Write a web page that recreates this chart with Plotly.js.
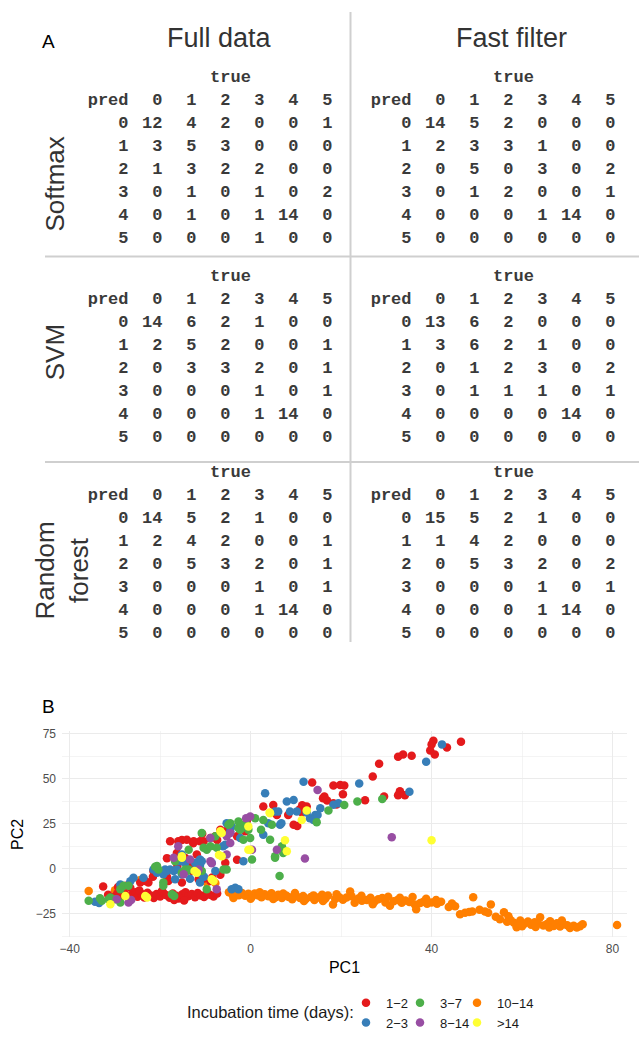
<!DOCTYPE html>
<html><head><meta charset="utf-8">
<script src="https://cdn.plot.ly/plotly-3.0.1.min.js"></script>
<style>html,body{margin:0;padding:0;background:#fff}#chart{width:639px;height:1038px}</style>
</head><body><div id="chart"></div>
<script>
// ---------------- DATA ----------------
const classLabels = ['0','1','2','3','4','5'];
const modelNames = ['Softmax', 'SVM', 'Random<br>forest'];
const dataNames = ['Full data', 'Fast filter'];
// confusion matrices: rows = pred, columns = true
const softmaxFull = [[12,4,2,0,0,1],[3,5,3,0,0,0],[1,3,2,2,0,0],[0,1,0,1,0,2],[0,1,0,1,14,0],[0,0,0,1,0,0]];
const softmaxFast = [[14,5,2,0,0,0],[2,3,3,1,0,0],[0,5,0,3,0,2],[0,1,2,0,0,1],[0,0,0,1,14,0],[0,0,0,0,0,0]];
const svmFull = [[14,6,2,1,0,0],[2,5,2,0,0,1],[0,3,3,2,0,1],[0,0,0,1,0,1],[0,0,0,1,14,0],[0,0,0,0,0,0]];
const svmFast = [[13,6,2,0,0,0],[3,6,2,1,0,0],[0,1,2,3,0,2],[0,1,1,1,0,1],[0,0,0,0,14,0],[0,0,0,0,0,0]];
const rfFull = [[14,5,2,1,0,0],[2,4,2,0,0,1],[0,5,3,2,0,1],[0,0,0,1,0,1],[0,0,0,1,14,0],[0,0,0,0,0,0]];
const rfFast = [[15,5,2,1,0,0],[1,4,2,0,0,0],[0,5,3,2,0,2],[0,0,0,1,0,1],[0,0,0,1,14,0],[0,0,0,0,0,0]];

const groupNames = ['1\u22122','2\u22123','3\u22127','8\u221214','10\u221214','>14'];
const groupColors = ['#E41A1C','#377EB8','#4DAF4A','#984EA3','#FF7F00','#FFFF33'];

const inc12X = [-31.5,-30.2,-29.5,-28.4,-27.8,-27.0,-26.2,-25.5,-25.0,-24.1,-23.5,-22.8,-22.1,-21.4,-20.8,-20.0,-19.3,-18.6,-17.9,-17.2,-16.5,-15.9,-15.1,-14.4,-13.8,-13.0,-12.3,-11.7,-11.0,-10.3,-9.6,-9.0,-8.2,-7.4,-16.9,-14.7,-24.6,-19.6,
 -32.6,-29.3,-27.5,-26.6,-24.4,-23.3,-22.6,-21.6,-18.5,-18.2,-15.2,-11.5,-10.4,-8.9,-8.5,-6.7,-21.5,-13.0,-18.5,-16.2,-12.9,-16.3,-14.5,-11.9,-5.6,-3.0,
 -17.8,-16.0,-15.2,-14.1,-12.6,-12.7,-11.2,-10.4,-10.7,-8.9,-7.8,-7.4,-6.7,-5.0,-3.0,-1.2,-0.8,2.8,5.0,5.8,8.3,9.5,10.3,11.4,12.4,13.6,16.0,11.4,
 40.4,46.5,43.4,39.7,40.7,40.0,32.6,33.7,35.6,28.4,27.0,18.3,19.8,20.7,20.4,16.3,16.9,18.3,19.0,25.3,29.5,33.0,32.6,34.1,10.9];
const inc12Y = [-14.5,-15.8,-13.8,-15.2,-14.0,-16.3,-14.6,-13.2,-15.7,-14.2,-16.1,-13.5,-15.0,-16.4,-14.1,-15.5,-13.4,-14.8,-16.2,-13.9,-15.1,-16.6,-14.3,-13.1,-15.4,-14.2,-16.0,-13.6,-14.9,-15.8,-13.4,-14.6,-15.5,-13.8,-17.5,-17.8,-12.2,-12.4,
 -10.0,-10.2,-9.6,-10.6,-7.8,-6.9,-7.8,-4.6,-4.6,-6.9,-7.8,-6.0,-5.6,-6.9,-5.0,-3.4,-1.4,-1.4,5.8,1.6,2.1,8.7,6.0,7.8,3.2,4.9,
 15.2,15.2,15.9,16.0,15.2,14.1,15.2,15.2,19.3,17.0,17.9,15.9,21.6,22.0,17.9,20.7,27.0,34.5,35.3,29.7,29.7,24.3,23.6,31.0,34.5,47.8,39.0,35.2,
 71.0,70.4,67.2,65.6,63.4,69.0,62.1,63.4,62.7,58.3,51.2,46.1,46.4,46.1,41.3,40.1,37.8,36.3,35.6,38.0,40.0,42.9,40.8,40.7,33.0];

const inc23X = [-34.4,-33.5,-28.8,-26.6,-25.9,-23.7,-21.5,-20.7,-19.3,-18.9,-18.5,-17.8,-17.0,-16.3,-16.7,-15.2,-15.6,-15.2,-14.5,-13.4,-12.3,-12.0,-11.2,-11.2,-11.2,-10.8,-10.8,-10.3,-8.6,-7.8,-6.1,-5.6,-5.3,-4.5,-4.2,-4.2,-3.4,-2.7,-2.3,-1.6,-1.2,2.8,3.2,3.9,5.4,6.1,6.5,6.8,8.0,9.5,8.7,10.2,11.7,13.1,14.3,12.4,13.9,15.4,19.4,18.3,24.0,35.1,38.8,42.3,14.8];
const inc23Y = [-18.5,-19.2,-8.8,-7.0,-5.1,-5.1,-0.5,-2.3,-3.2,-0.5,-1.4,-0.5,-1.4,-0.5,-6.0,-3.2,4.1,7.8,3.2,-5.7,3.2,2.3,1.5,5.1,-7.8,-3.2,4.1,-4.5,3.2,-1.4,12.4,13.3,25.2,20.7,23.4,-11.5,-10.6,-11.5,17.0,4.1,23.4,18.8,41.8,25.2,31.7,31.7,24.3,25.2,37.2,38.1,31.7,31.7,48.2,28.0,29.8,31.1,27.0,33.5,36.3,35.5,47.3,42.7,59.3,69.0,29.7];

const inc37X = [-35.8,-32.9,-33.3,-31.4,-31.0,-29.9,-28.8,-28.1,-27.0,-28.8,-21.1,-20.4,-20.7,-19.3,-19.3,-17.4,-16.9,-16.7,-15.2,-14.5,-14.1,-13.7,-13.7,-10.8,-10.8,-10.4,-9.7,-9.7,-8.9,-7.5,-7.8,-6.0,-5.3,-4.9,-4.5,-2.7,-2.7,-2.1,-2.3,-1.6,-0.8,-0.5,-0.1,0.3,1.0,2.8,2.3,4.3,4.7,5.4,5.4,6.9,7.2,7.2,6.4,14.6,17.2,20.7,23.6,29.1];
const inc37Y = [-17.9,-17.9,-16.5,-17.0,-16.1,-17.0,-18.9,-9.6,-9.6,-11.5,1.0,-0.5,1.4,-7.8,-9.6,-14.3,-15.2,4.1,-2.3,-0.5,-1.4,-0.5,10.5,-1.4,19.7,11.5,10.5,-11.5,12.4,11.5,17.9,-0.5,-0.5,24.3,25.2,26.2,22.5,24.3,21.6,16.0,24.3,21.6,17.0,5.0,28.0,27.0,21.6,16.0,24.3,6.0,6.9,12.4,10.5,8.7,-4.1,25.8,32.2,35.3,37.2,38.7];

const inc814X = [-29.6,-27.0,-26.4,-14.8,-13.4,-17.0,-16.0,-11.5,-8.9,-8.9,-7.5,-5.3,-5.3,-4.5,-4.5,-1.0,-0.1,0.3,5.8,12.0,14.8,31.2,-8.6];
const inc814Y = [-17.0,-18.9,-17.5,-3.2,5.0,6.0,12.4,-0.5,17.0,4.1,-11.5,17.9,7.8,19.7,14.2,28.0,28.9,10.5,10.5,5.6,43.6,17.4,3.0];

const inc1014X = [-35.8,-30.0,-24.5,-9.7,-8.5,-7.8,
 -4.8,-4.0,-3.3,-2.6,-1.9,-1.2,-0.5,0.3,0.9,1.7,
 2.4,3.1,3.9,4.6,5.5,6.1,6.9,7.8,8.4,9.2,
 10.1,10.9,11.6,12.2,13.3,14.1,14.9,15.8,16.5,17.1,
 18.2,18.7,19.6,20.4,22.0,22.3,23.0,23.8,24.6,25.7,
 26.5,27.4,28.2,29.1,30.4,30.8,31.6,32.5,33.4,34.2,
 35.1,36.3,36.6,37.5,38.2,39.0,40.0,41.2,42.1,43.8,
 45.2,46.3,47.4,48.3,49.0,49.2,50.6,51.8,53.1,54.2,
 55.1,56.0,56.7,57.5,58.2,58.8,59.6,60.5,61.3,62.0,
 62.8,63.5,64.0,64.7,65.5,66.2,67.0,67.7,68.4,69.1,
 70.0,70.6,71.4,72.1,72.8,73.4,81.0,
 -3.8,0.0,2.0,5.0,7.2,9.8,11.8,13.9,16.0,19.0,
 21.2,24.5,27.0,29.8,33.0,35.8,38.8,41.0,44.5,52.5,
 57.0,60.0,63.0,66.0,68.8];
const inc1014Y = [-12.4,-12.0,-6.5,-7.8,-6.5,-8.0,
 -13.2,-14.5,-12.9,-14.8,-13.6,-15.1,-14.0,-15.6,-13.8,-14.9,
 -16.0,-14.3,-15.4,-13.7,-15.9,-14.6,-16.3,-14.9,-15.8,-17.1,
 -15.2,-16.4,-15.3,-16.9,-15.8,-17.4,-16.1,-14.6,-16.8,-15.0,
 -20.0,-16.9,-15.9,-17.3,-12.7,-15.4,-19.0,-16.6,-17.9,-17.5,
 -16.2,-18.3,-17.0,-16.4,-15.6,-20.6,-18.1,-17.4,-19.0,-17.7,
 -18.6,-20.0,-22.6,-19.2,-18.4,-19.6,-18.9,-19.6,-18.5,-21.3,
 -21.0,-25.4,-24.6,-24.1,-23.8,-16.0,-22.9,-23.8,-19.9,-26.8,
 -28.2,-24.3,-29.6,-28.7,-30.1,-32.6,-28.9,-30.6,-29.4,-31.2,
 -29.8,-30.5,-27.0,-31.6,-30.8,-29.3,-31.9,-30.4,-32.2,-30.9,
 -31.5,-33.0,-31.8,-32.7,-32.0,-31.0,-31.4,
 -16.4,-16.8,-13.2,-16.9,-13.9,-13.6,-18.0,-14.9,-18.0,-14.3,
 -16.1,-15.1,-19.8,-18.9,-16.2,-15.8,-16.8,-17.5,-19.4,-24.5,
 -26.5,-32.0,-32.5,-32.8,-28.8];

const inc14X = [-31.0,-27.7,-23.3,-22.9,-15.2,-15.2,-12.4,-11.9,-8.6,-8.2,-6.7,-6.4,-7.0,-6.4,-0.5,-0.1,-0.5,4.2,4.3,7.6,8.0,12.4,11.3,40.0];
const inc14Y = [-19.8,-15.2,-15.2,-16.1,6.0,6.9,-1.4,-2.3,-6.0,-6.9,20.7,6.9,7.5,19.7,23.4,10.5,10.5,31.1,30.8,15.7,9.6,32.2,27.0,15.7];

// ---------------- LAYOUT HELPERS ----------------
const W = 639, H = 1038;
const fx = p => p / W;
const fy = p => 1 - p / H;
const SANS = 'Liberation Sans, Arial, Helvetica, sans-serif';
const MONO = 'Liberation Mono, Courier New, monospace';
const COLSTEP = 34, ROWSTEP = 23.15;
const colRight = [162.5, 445.5];      // px, right edge of column "0"
const headerRow = [101.7, 302, 500];  // px, y of header row
const matrices = [[softmaxFull, softmaxFast], [svmFull, svmFast], [rfFull, rfFast]];

const traces = [];
const layout = {
  width: W, height: H, margin: {l: 0, r: 0, t: 0, b: 0},
  paper_bgcolor: '#ffffff', plot_bgcolor: 'rgba(0,0,0,0)',
  font: {family: SANS, color: '#1a1a1a'},
  showlegend: true,
  shapes: [], annotations: []
};

const txtFont = {family: MONO, size: 17, color: '#3a3a3a', weight: 'bold'};
let ax = 2;
for (let r = 0; r < 3; r++) {
  for (let c = 0; c < 2; c++) {
    const m = matrices[r][c];
    const xa = 'x' + ax, ya = 'y' + ax;
    const cr = colRight[c], hr = headerRow[r];
    layout['xaxis' + ax] = {domain: [fx(cr - 3 * COLSTEP), fx(cr + 5.5 * COLSTEP)], range: [-3, 5.5], visible: false, fixedrange: true, anchor: ya};
    layout['yaxis' + ax] = {domain: [fy(hr + 6.6 * ROWSTEP), fy(hr - 1.6 * ROWSTEP)], range: [5.6, -2.6], visible: false, fixedrange: true, anchor: xa};
    const cx = [], cy = [], ct = [];
    m.forEach((row, i) => row.forEach((v, j) => { cx.push(j); cy.push(i); ct.push(String(v)); }));
    const base = {type: 'scatter', mode: 'text', xaxis: xa, yaxis: ya, showlegend: false, hoverinfo: 'skip', cliponaxis: false, textfont: txtFont};
    traces.push(Object.assign({}, base, {x: cx, y: cy, text: ct, textposition: 'middle left'}));
    traces.push(Object.assign({}, base, {x: [-1, 0, 1, 2, 3, 4, 5], y: [-1, -1, -1, -1, -1, -1, -1], text: ['pred'].concat(classLabels), textposition: 'middle left'}));
    traces.push(Object.assign({}, base, {x: [-1, -1, -1, -1, -1, -1], y: [0, 1, 2, 3, 4, 5], text: classLabels, textposition: 'middle left'}));
    traces.push(Object.assign({}, base, {x: [2], y: [-2], text: ['true'], textposition: 'middle center'}));
    ax++;
  }
}

// scatter (panel B)
const groupX = [inc12X, inc23X, inc37X, inc814X, inc1014X, inc14X];
const groupY = [inc12Y, inc23Y, inc37Y, inc814Y, inc1014Y, inc14Y];
const groupLegend = ['legend', 'legend', 'legend2', 'legend2', 'legend3', 'legend3'];
const drawOrder = [4, 0, 1, 2, 3, 5];
drawOrder.forEach(g => {
  traces.push({
    type: 'scatter', mode: 'markers', x: groupX[g], y: groupY[g], name: groupNames[g],
    xaxis: 'x', yaxis: 'y', legend: groupLegend[g],
    marker: {color: groupColors[g], size: 8.5, line: {width: 0}},
    hoverinfo: 'skip'
  });
});

const gridC = '#ebebeb';
layout.xaxis = {
  domain: [fx(62), fx(627)], range: [-41.7, 83.2], anchor: 'y', fixedrange: true,
  tick0: 0, dtick: 40, showgrid: true, gridcolor: gridC, gridwidth: 1.1,
  minor: {tick0: 0, dtick: 20, showgrid: true, gridcolor: gridC, gridwidth: 0.55},
  zeroline: false, showline: false, ticks: '', ticklabelstandoff: 3,
  tickfont: {family: SANS, size: 12, color: '#4d4d4d'},
  title: {text: 'PC1', font: {family: SANS, size: 16, color: '#000'}, standoff: 6}
};
layout.yaxis = {
  domain: [fy(944.6), fy(737.1)], range: [-38.2, 76.2], anchor: 'x', fixedrange: true,
  tick0: 0, dtick: 25, showgrid: true, gridcolor: gridC, gridwidth: 1.1,
  minor: {tick0: 0, dtick: 12.5, showgrid: true, gridcolor: gridC, gridwidth: 0.55},
  zeroline: false, showline: false, ticks: '', ticklabelstandoff: 5,
  tickfont: {family: SANS, size: 12, color: '#4d4d4d'},
  title: {text: 'PC2', font: {family: SANS, size: 16, color: '#000'}, standoff: 8}
};

const mkLegend = p => ({
  x: fx(p), xanchor: 'left', y: fy(995.4), yanchor: 'top', orientation: 'v',
  bgcolor: 'rgba(0,0,0,0)', borderwidth: 0, tracegroupgap: 0,
  font: {family: SANS, size: 13, color: '#1a1a1a'}
});
layout.legend = mkLegend(346);
layout.legend2 = mkLegend(400);
layout.legend3 = mkLegend(457);

// divider lines
const lineStyle = {color: '#cfcfcf', width: 2};
layout.shapes.push({type: 'line', xref: 'paper', yref: 'paper', x0: fx(45), x1: fx(639), y0: fy(258.5), y1: fy(258.5), line: lineStyle});
layout.shapes.push({type: 'line', xref: 'paper', yref: 'paper', x0: fx(45), x1: fx(639), y0: fy(465.5), y1: fy(465.5), line: lineStyle});
layout.shapes.push({type: 'line', xref: 'paper', yref: 'paper', x0: fx(350.5), x1: fx(350.5), y0: fy(12), y1: fy(647), line: lineStyle});

const ann = (text, x, y, size, extra) => Object.assign({
  text: text, x: fx(x), y: fy(y), xref: 'paper', yref: 'paper', showarrow: false,
  xanchor: 'center', yanchor: 'middle', font: {family: SANS, size: size, color: '#333'}
}, extra || {});
layout.annotations.push(ann('A', 48, 42, 19, {font: {family: SANS, size: 19, color: '#000'}}));
layout.annotations.push(ann('B', 48, 712, 19, {font: {family: SANS, size: 19, color: '#000'}}));
layout.annotations.push(ann(dataNames[0], 220, 38, 27));
layout.annotations.push(ann(dataNames[1], 511, 38, 27));
layout.annotations.push(ann(modelNames[0], 55, 185, 26, {textangle: -90}));
layout.annotations.push(ann(modelNames[1], 55, 355, 26, {textangle: -90}));
layout.annotations.push(ann(modelNames[2], 62, 575, 26, {textangle: -90}));
layout.annotations.push(ann('Incubation time (days):', 356, 1020, 16.5, {xanchor: 'right', font: {family: SANS, size: 16.5, color: '#1a1a1a'}}));

Plotly.newPlot('chart', traces, layout, {displayModeBar: false, staticPlot: true});
</script></body></html>
